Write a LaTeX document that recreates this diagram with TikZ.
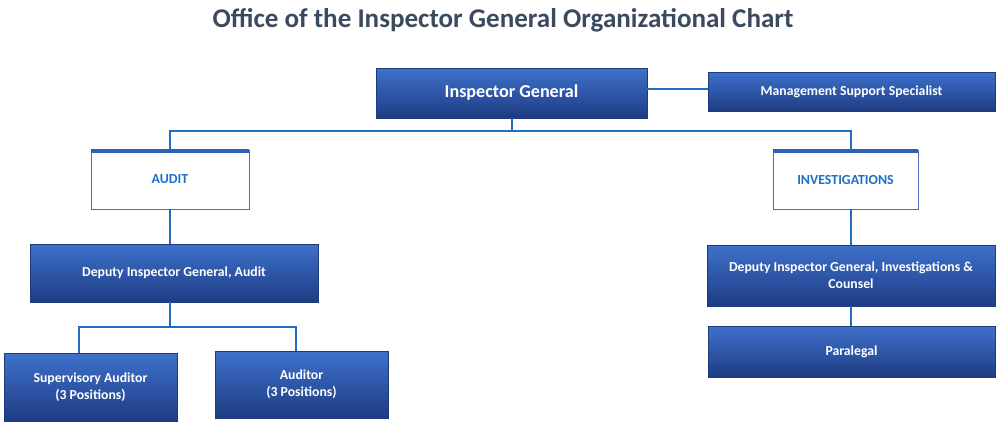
\documentclass[tikz,border=0pt]{standalone}
\usepackage{fontspec}
\setmainfont{Carlito}
\usetikzlibrary{calc}
\definecolor{boxtop}{HTML}{3E71CC}
\definecolor{boxbot}{HTML}{1E3C82}
\definecolor{boxline}{HTML}{1F3A7A}
\definecolor{conncol}{HTML}{1F6EC4}
\definecolor{titlec}{HTML}{3B4A5F}
\definecolor{depttext}{HTML}{1F6FC5}
\definecolor{deptline}{HTML}{4A6DB8}
\definecolor{deptbar}{HTML}{2F60B4}
\begin{document}
\begin{tikzpicture}[x=0.75pt,y=-0.75pt,
  role/.style={draw=boxline, line width=0.6pt, top color=boxtop, bottom color=boxbot,
    text=white, font=\bfseries\fontsize{10.3}{13}\selectfont, align=center, inner sep=0pt},
  dept/.style={draw=deptline, line width=0.6pt, fill=white, text=depttext,
    font=\bfseries\fontsize{10.4}{12}\selectfont, align=center, inner sep=0pt},
  sz/.style 2 args={minimum width=#1*0.75pt, minimum height=#2*0.75pt},
  connector/.style={draw=conncol, line width=2.1pt},
  topbar/.style={draw=deptbar, line width=2.6pt}]
\useasboundingbox (0,0) rectangle (1000,425);

\node[font=\bfseries\fontsize{20.3}{24}\selectfont, text=titlec] (title) at (503,20)
  {Office of the Inspector General Organizational Chart};

% boxes
\node[role, sz={271}{50}, font=\bfseries\fontsize{13.6}{16}\selectfont] (ig) at (511.5,93) {Inspector General};
\node[role, sz={287}{39}] (mss) at (851.5,91.5) {Management Support Specialist};
\node[dept, sz={158}{59}] (audit) at (170,179.5) {AUDIT};
\node[dept, sz={145}{59}] (inv) at (845.5,179.5) {INVESTIGATIONS};
\node[role, sz={288}{58}] (depa) at (174,273) {Deputy Inspector General, Audit};
\node[role, sz={288}{61}] (dinv) at (851,275.5) {Deputy Inspector General, Investigations \&\\Counsel};
\node[role, sz={287}{51}] (para) at (851.5,351.5) {Paralegal};
\node[role, sz={173}{68}] (sup) at (90.5,387) {Supervisory Auditor\\(3 Positions)};
\node[role, sz={173}{67}] (aud) at (301.5,384.5) {Auditor\\(3 Positions)};

% top bars of department boxes
\draw[topbar] ([yshift=-1pt]audit.north west) -- ([yshift=-1pt]audit.north east);
\draw[topbar] ([yshift=-1pt]inv.north west) -- ([yshift=-1pt]inv.north east);

% connectors
\draw[connector] ([yshift=3pt]ig.east) -- ([yshift=3pt]ig.east -| mss.west);
\coordinate (j) at (512,131);
\draw[connector] (ig.south -| j) -- (j);
\draw[connector] (audit.north) |- (j) -| (dinv.north |- inv.north);
\draw[connector] (audit.south) -- (audit.south |- depa.north);
\draw[connector] (dinv.north |- inv.south) -- (dinv.north);
\draw[connector] (dinv.south) -- (dinv.south |- para.north);
\coordinate (k) at (170,327);
\draw[connector] (depa.south -| k) -- (k);
\draw[connector] ($(sup.north)+(-11.5,0)$) |- (k) -| ($(aud.north)+(-5.5,0)$);
\end{tikzpicture}
\end{document}
